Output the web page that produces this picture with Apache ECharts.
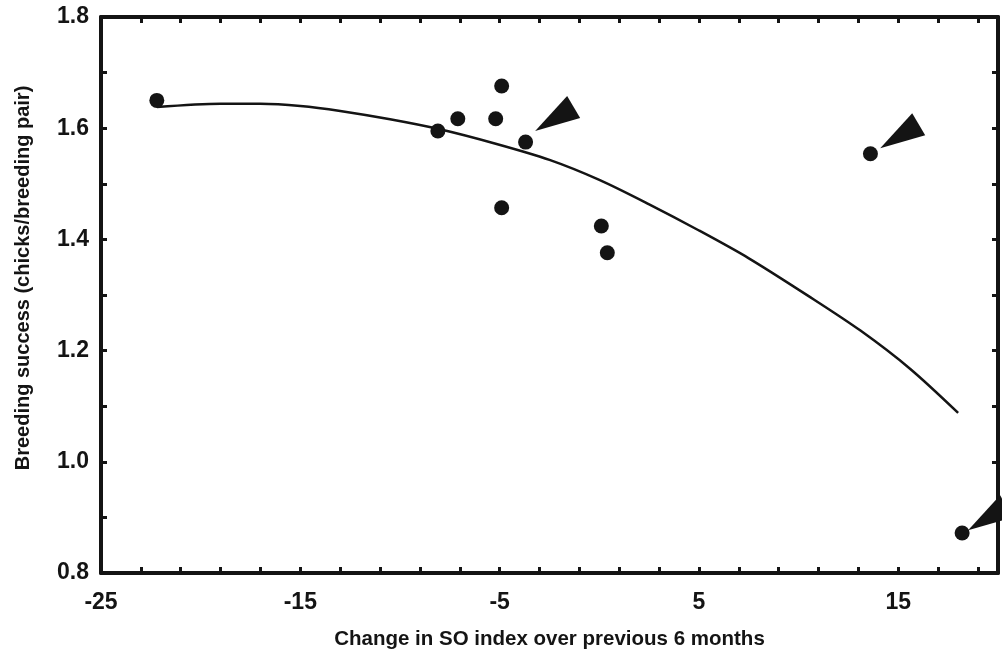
<!DOCTYPE html>
<html>
<head>
<meta charset="utf-8">
<script src="https://cdn.jsdelivr.net/npm/echarts@6/dist/echarts.min.js"></script>
<style>
  html, body { margin: 0; padding: 0; background: #fff; }
  #chart { width: 1002px; height: 660px; }
</style>
</head>
<body>
<div id="chart"></div>
<script>
// observed points: change in SO index vs breeding success
const soChange = [-22.2, -8.1, -7.1, -5.2, -4.9, -3.7, -4.9, 0.1, 0.4, 13.6, 18.2]
const success = [1.65, 1.595, 1.617, 1.617, 1.676, 1.575, 1.457, 1.424, 1.376, 1.554, 0.872]

// fitted curve
const curveX = [-22.2, -19.0, -17.0, -15.0, -13.0, -10.5, -8.0, -5.2, -2.5, 0.0, 2.5, 5.0, 7.5, 10.5, 13.1, 15.6, 18.0]
const curveY = [1.638, 1.644, 1.644, 1.640, 1.631, 1.616, 1.598, 1.572, 1.543, 1.507, 1.463, 1.416, 1.366, 1.298, 1.236, 1.167, 1.088]

// arrow tips pointing at highlighted years
const arrowX = [-3.22, 14.09, 18.5]
const arrowY = [1.595, 1.564, 0.877]

const xTickLabels = [-25, -15, -5, 5, 15]

const INK = '#141414'
const FONT = "'Liberation Sans', Arial, Helvetica, sans-serif"

const points = soChange.map((x, i) => [x, success[i]])
const curve = curveX.map((x, i) => [x, curveY[i]])
const arrows = arrowX.map((x, i) => [x, arrowY[i]])

const chart = echarts.init(document.getElementById('chart'))

const axisLine = { show: true, onZero: false, lineStyle: { color: INK, width: 4 } }
const tick = { show: true, inside: true, length: 6, lineStyle: { color: INK, width: 3 } }

chart.setOption({
  animation: false,
  backgroundColor: '#fff',
  grid: { left: 101, right: 4, top: 17, bottom: 87 },
  xAxis: [
    {
      type: 'value',
      min: -25,
      max: 20,
      interval: 2,
      position: 'bottom',
      axisLine: axisLine,
      axisTick: tick,
      splitLine: { show: false },
      axisLabel: {
        margin: 18,
        color: INK,
        fontFamily: FONT,
        fontWeight: 'bold',
        fontSize: 23,
        formatter: function(v) {
          const r = Math.round(v)
          return xTickLabels.indexOf(r) >= 0 && Math.abs(v - r) < 1e-6 ? String(r) : ''
        }
      },
      name: 'Change in SO index over previous 6 months',
      nameLocation: 'middle',
      nameGap: 56,
      nameTextStyle: { color: INK, fontFamily: FONT, fontWeight: 'bold', fontSize: 20.5 }
    },
    {
      type: 'value',
      min: -25,
      max: 20,
      interval: 2,
      position: 'top',
      axisLine: axisLine,
      axisTick: tick,
      splitLine: { show: false },
      axisLabel: { show: false }
    }
  ],
  yAxis: [
    {
      type: 'value',
      min: 0.8,
      max: 1.8,
      interval: 0.2,
      position: 'left',
      axisLine: axisLine,
      axisTick: tick,
      minorTick: { show: true, splitNumber: 2, length: 6, lineStyle: { color: INK, width: 3 } },
      splitLine: { show: false },
      minorSplitLine: { show: false },
      axisLabel: {
        margin: 12,
        color: INK,
        fontFamily: FONT,
        fontWeight: 'bold',
        fontSize: 23,
        formatter: function(v) { return v.toFixed(1) }
      },
      name: 'Breeding success (chicks/breeding pair)',
      nameLocation: 'middle',
      nameGap: 68,
      nameTextStyle: { color: INK, fontFamily: FONT, fontWeight: 'bold', fontSize: 20, padding: [0, 0, 0, 34] }
    },
    {
      type: 'value',
      min: 0.8,
      max: 1.8,
      interval: 0.2,
      position: 'right',
      axisLine: axisLine,
      axisTick: tick,
      minorTick: { show: true, splitNumber: 2, length: 6, lineStyle: { color: INK, width: 3 } },
      splitLine: { show: false },
      minorSplitLine: { show: false },
      axisLabel: { show: false }
    }
  ],
  series: [
    {
      name: 'fit',
      type: 'line',
      data: curve,
      smooth: 0.3,
      showSymbol: false,
      symbol: 'none',
      lineStyle: { color: INK, width: 2.5 },
      z: 2
    },
    {
      name: 'years',
      type: 'scatter',
      data: points,
      symbol: 'circle',
      symbolSize: 15,
      itemStyle: { color: INK, opacity: 1 },
      z: 3
    },
    {
      name: 'arrows',
      type: 'custom',
      data: arrows,
      clip: false,
      renderItem: function(params, api) {
        const p = api.coord([api.value(0), api.value(1)])
        return {
          type: 'polygon',
          shape: { points: [p, [p[0] + 32, p[1] - 35], [p[0] + 45, p[1] - 13]] },
          style: { fill: INK }
        }
      },
      z: 4
    }
  ]
})
</script>
</body>
</html>
